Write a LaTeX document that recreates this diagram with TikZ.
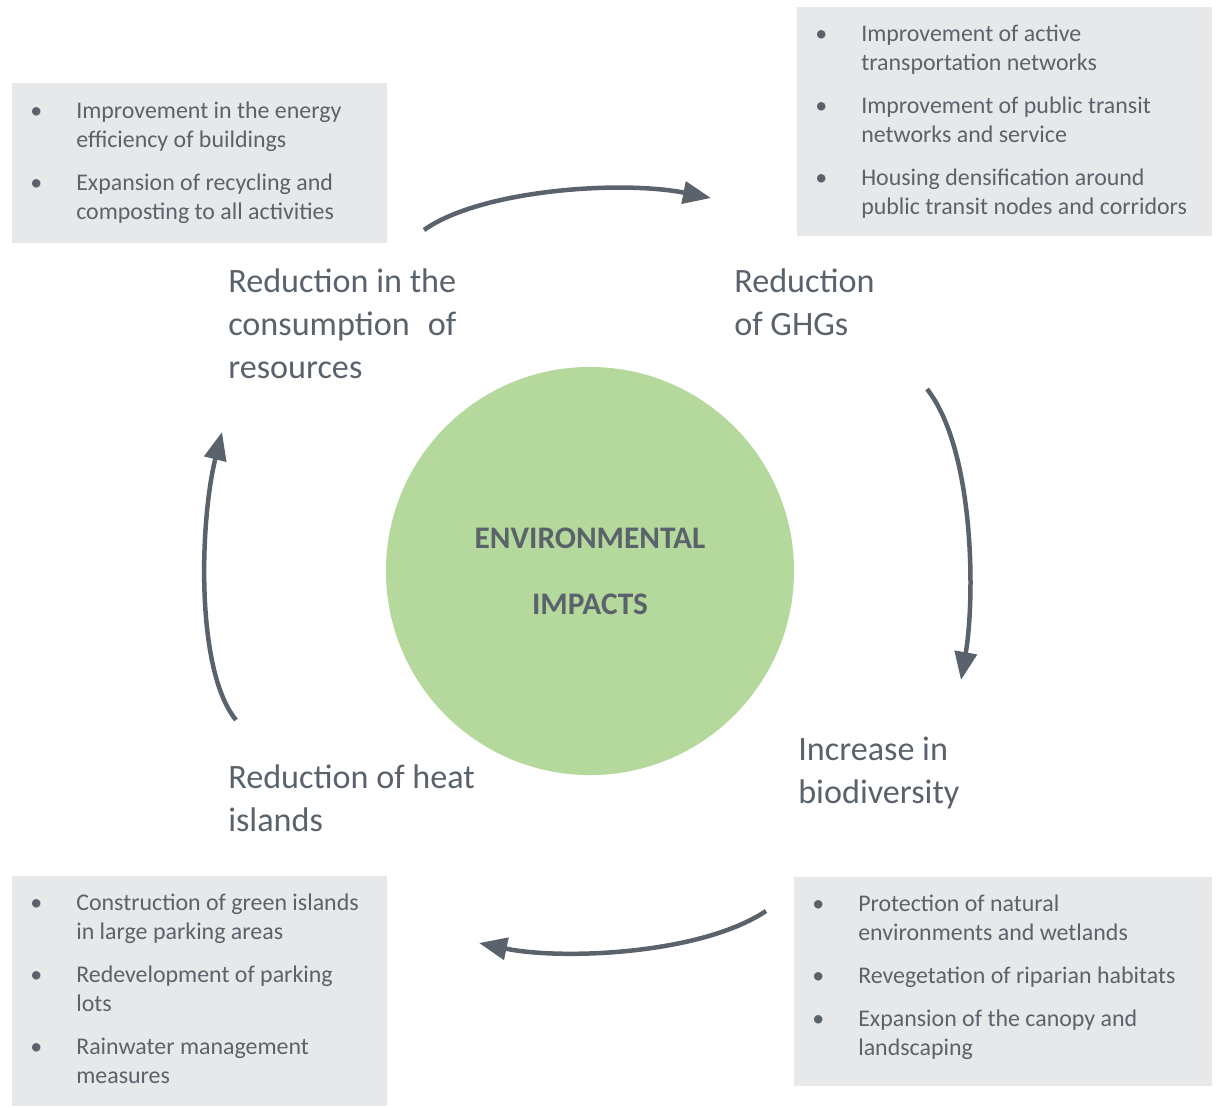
\documentclass[tikz,border=0pt]{standalone}
\usepackage{fontspec}
\setmainfont{Carlito}
\usetikzlibrary{arrows.meta, positioning}

\definecolor{slate}{HTML}{5A626B}
\definecolor{panelgray}{HTML}{E7E8E9}
\definecolor{leafgreen}{HTML}{B5D99C}

\begin{document}
\begin{tikzpicture}[
    x=0.025cm, y=-0.025cm,
    % Node styles
    panel/.style={
        rectangle, fill=panelgray, draw=none, anchor=north west,
        inner sep=0pt
    },
    actions/.style={
        inner sep=0pt, text=slate, align=left,
        font=\fontsize{17}{20.6}\selectfont
    },
    outcome/.style={
        inner sep=0pt, text=slate, align=left, anchor=base west,
        font=\fontsize{24.3}{30.3}\selectfont
    },
    core/.style={
        circle, fill=leafgreen, draw=none, minimum size=10.2cm,
        text=slate, align=center,
        font=\fontsize{22.3}{47}\selectfont\bfseries
    },
    cycle/.style={
        -{Triangle[length=0.7cm, width=0.55cm]}, line width=3.2pt, slate
    }
]
\useasboundingbox (0,0) rectangle (1217,1107);

% --- Centre ---
\node[core] (impact) at (590,571) {ENVIRONMENTAL\\IMPACTS};

% --- Outcomes (placed by the baseline of their last line) ---
\node[outcome] (resources) at (228,378)
    {Reduction in the\\consumption\hspace{0.45cm}of\\resources};
\node[outcome] (ghg) at (734,335) {Reduction\\of GHGs};
\node[outcome] (biodiv) at (798,803) {Increase in\\biodiversity};
\node[outcome] (heat) at (228,831) {Reduction of heat\\islands};

% --- Action panels ---
\node[panel, minimum width=9.375cm, minimum height=4cm] (respanel) at (12,83) {};
\node[actions, right=0.45cm of respanel.west] (reslist) {
    \begin{tabular}{@{}p{1.15cm}@{}l@{}}
    \textbullet & Improvement in the energy\\
                & efficiency of buildings\\[10pt]
    \textbullet & Expansion of recycling and\\
                & composting to all activities
    \end{tabular}
};

\node[panel, minimum width=10.375cm, minimum height=5.725cm] (ghgpanel) at (797,7) {};
\node[actions, right=0.45cm of ghgpanel.west] (ghglist) {
    \begin{tabular}{@{}p{1.15cm}@{}l@{}}
    \textbullet & Improvement of active\\
                & transportation networks\\[10pt]
    \textbullet & Improvement of public transit\\
                & networks and service\\[10pt]
    \textbullet & Housing densification around\\
                & public transit nodes and corridors
    \end{tabular}
};

\node[panel, minimum width=10.45cm, minimum height=5.225cm] (biopanel) at (794,877) {};
\node[actions, right=0.45cm of biopanel.west, yshift=0.1cm] (biolist) {
    \begin{tabular}{@{}p{1.15cm}@{}l@{}}
    \textbullet & Protection of natural\\
                & environments and wetlands\\[10pt]
    \textbullet & Revegetation of riparian habitats\\[10pt]
    \textbullet & Expansion of the canopy and\\
                & landscaping
    \end{tabular}
};

\node[panel, minimum width=9.375cm, minimum height=5.75cm] (heatpanel) at (12,876) {};
\node[actions, right=0.45cm of heatpanel.west] (heatlist) {
    \begin{tabular}{@{}p{1.15cm}@{}l@{}}
    \textbullet & Construction of green islands\\
                & in large parking areas\\[10pt]
    \textbullet & Redevelopment of parking\\
                & lots\\[10pt]
    \textbullet & Rainwater management\\
                & measures
    \end{tabular}
};

% --- Cycle arrows ---
\coordinate (resout) at (424,230);
\coordinate (ghgin) at (711,198);
\coordinate (ghgout) at (927,389);
\coordinate (bioin) at (961,680);
\coordinate (bioout) at (766,911);
\coordinate (heatin) at (479,943);
\coordinate (heatout) at (236,720);
\coordinate (resin) at (222,432);

\draw[cycle] (resout) .. controls (480,190) and (620,180) .. (ghgin);
\draw[cycle] (ghgout) .. controls (975,450) and (975,600) .. (bioin);
\draw[cycle] (bioout) .. controls (700,955) and (560,960) .. (heatin);
\draw[cycle] (heatout) .. controls (195,670) and (200,520) .. (resin);

\end{tikzpicture}
\end{document}
